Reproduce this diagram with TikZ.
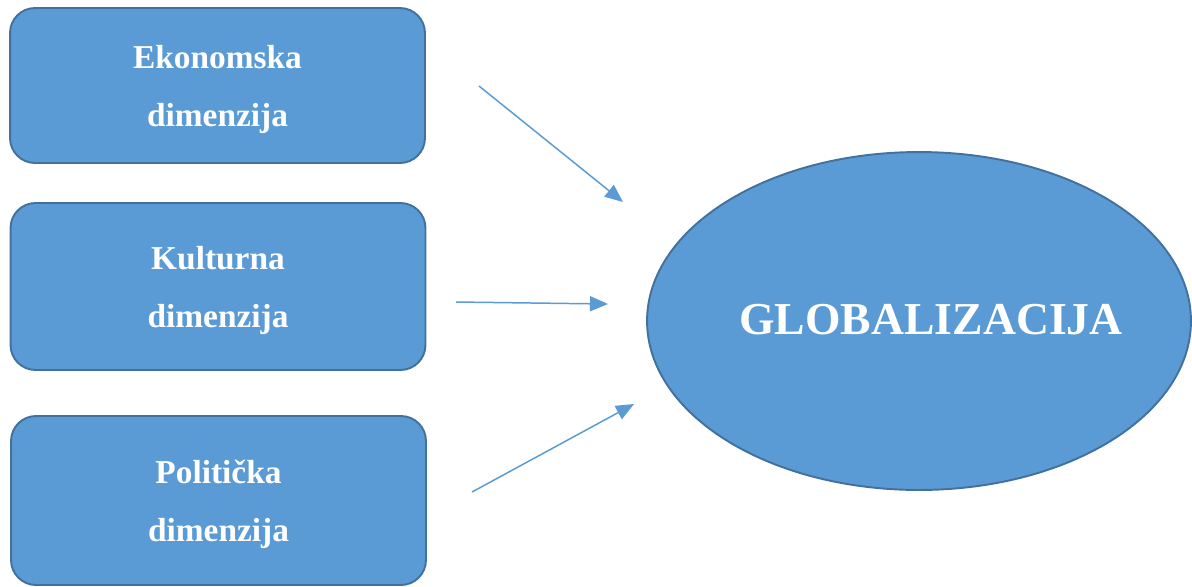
\documentclass[tikz,border=0pt]{standalone}
\usepackage{fontspec}
\setmainfont{Liberation Serif}
\usetikzlibrary{calc}
\usetikzlibrary{positioning}
\usetikzlibrary{shapes.geometric}
\usetikzlibrary{arrows.meta}
\definecolor{boxblue}{HTML}{5B9BD5}
\definecolor{edgeblue}{HTML}{41719C}
\tikzstyle{dimbox} = [draw=edgeblue, fill=boxblue, line width=1.1pt, rounded corners=0.5cm, minimum width=8.3cm, text=white, text depth=0pt, align=center, font=\fontsize{19}{33}\selectfont\bfseries]
\tikzstyle{globnode} = [draw=edgeblue, fill=boxblue, line width=1.1pt, ellipse, inner sep=0pt, minimum width=10.88cm, minimum height=6.76cm]
\tikzstyle{globtext} = [text=white, font=\fontsize{26}{30}\selectfont\bfseries]
\tikzstyle{inarrow} = [draw=boxblue, line width=0.85pt, -{Triangle[length=0.36cm, width=0.3cm]}]

\begin{document}
\begin{tikzpicture}[x=0.02cm, y=-0.02cm]
    \useasboundingbox (0,0) rectangle (1192,586);

    \node[dimbox, minimum height=3.1cm] (ekon) at (217.5,85.5) {Ekonomska\\dimenzija};
    \node[dimbox, minimum height=3.34cm] (kult) at ($(ekon)+(0.5,201)$) {Kulturna\\dimenzija};
    \node[dimbox, minimum height=3.38cm] (polit) at ($(kult)+(0.5,214)$) {Politička\\dimenzija};

    \node[globnode] (glob) at (919,321) {};
    \node[globtext] (glob_text) at ($(glob)+(12,-1)$) {GLOBALIZACIJA};

    \coordinate (ekon_tail) at (479,86);
    \coordinate (ekon_head) at (623,202);
    \coordinate (kult_tail) at (456,302);
    \coordinate (kult_head) at (608,304);
    \coordinate (polit_tail) at (472,492);
    \coordinate (polit_head) at (634,404);
    \draw[inarrow] (ekon_tail) -- (ekon_head);
    \draw[inarrow] (kult_tail) -- (kult_head);
    \draw[inarrow] (polit_tail) -- (polit_head);
\end{tikzpicture}
\end{document}
